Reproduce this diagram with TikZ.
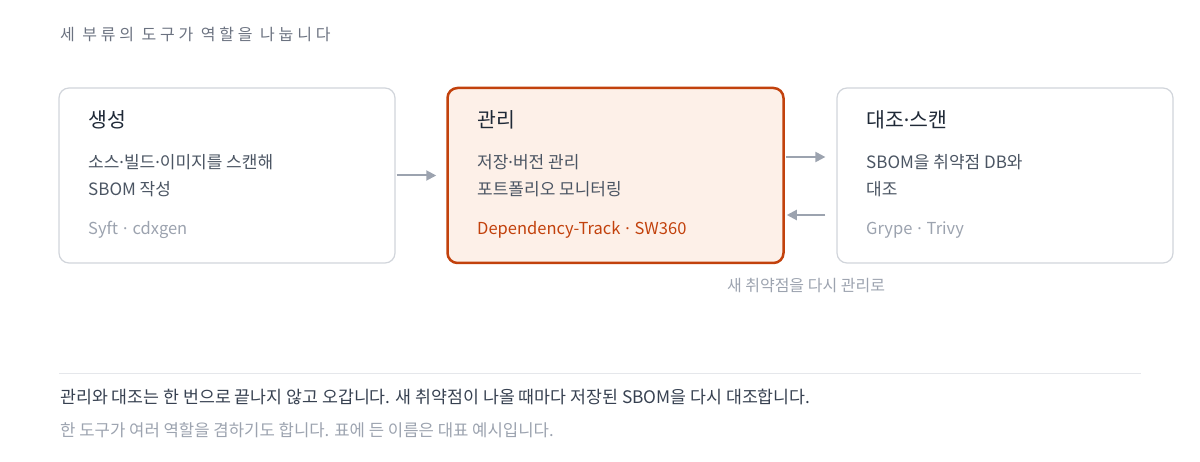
\documentclass[tikz,border=0pt]{standalone}
\usepackage{fontspec}
\setmainfont{Noto Sans CJK KR}
\newfontfamily\latinf{Noto Sans}
\newcommand\mdot{{\latinf ·}}
\newcommand\tsep{\hspace{0.3em}\mdot\hspace{0.3em}}
\usetikzlibrary{arrows.meta,calc}
\definecolor{bordergray}{HTML}{D1D5DB}
\definecolor{arrowgray}{HTML}{9CA3AF}
\definecolor{accent}{HTML}{C2410C}
\definecolor{accentfill}{HTML}{FDF0E8}
\definecolor{titlec}{HTML}{1F2937}
\definecolor{bodyc}{HTML}{4B5563}
\definecolor{mutedc}{HTML}{9CA3AF}
\definecolor{headc}{HTML}{6B7280}
\definecolor{footc}{HTML}{374151}
\definecolor{rulec}{HTML}{E5E7EB}
\tikzset{
  card/.style={draw=bordergray, line width=1.2pt, fill=white, rounded corners=10pt, minimum width=336pt, minimum height=175pt, inner sep=0pt},
  hicard/.style={card, draw=accent, fill=accentfill, line width=2.5pt},
  cardtitle/.style={anchor=west, inner sep=0pt, font=\fontsize{20.5}{24}\selectfont, text=titlec},
  cardbody/.style={anchor=west, inner sep=0pt, font=\fontsize{17}{20}\selectfont, text=bodyc},
  cardtools/.style={anchor=west, inner sep=0pt, font=\fontsize{16.5}{20}\selectfont, text=mutedc},
  flow/.style={draw=arrowgray, line width=2pt, -{Triangle[length=10pt,width=10pt]}},
}
\begin{document}
\begin{tikzpicture}[x=1pt,y=-1pt]
\useasboundingbox (0,0) rectangle (1200,462);
\node[anchor=west, inner sep=0pt, font=\fontsize{16}{18}\selectfont\addfontfeature{LetterSpace=24}, text=headc] (head) at (60,34) {세 부류의 도구가 역할을 나눕니다};

\node[card] (gen) at (227,175.5) {};
\node[hicard] (mgmt) at (615.5,175.5) {};
\node[card] (scan) at (1005,175.5) {};

\node[cardtitle] (gent) at (88,120) {생성};
\node[cardbody] (genb1) at (88,162) {소스\mdot 빌드\mdot 이미지를 스캔해};
\node[cardbody] (genb2) at (88,189) {SBOM 작성};
\node[cardtools] (gentl) at (88,230) {Syft\tsep cdxgen};

\node[cardtitle] (mgt) at (477,120) {관리};
\node[cardbody] (mgb1) at (477,162) {저장\mdot 버전 관리};
\node[cardbody] (mgb2) at (477,189) {포트폴리오 모니터링};
\node[cardtools, text=accent] (mgtl) at (477,230) {Dependency-Track\tsep SW360};

\node[cardtitle] (sct) at (866,120) {대조\mdot 스캔};
\node[cardbody] (scb1) at (866,162) {SBOM을 취약점 DB와};
\node[cardbody] (scb2) at (866,189) {대조};
\node[cardtools] (sctl) at (866,230) {Grype\tsep Trivy};

\draw[flow] ($(gen.east)+(1,0)$) -- ($(mgmt.west)+(-10,0)$);
\draw[flow] ($(mgmt.east)+(1,-18.5)$) -- ($(scan.west)+(-11,-18.5)$);
\draw[flow] ($(scan.west)+(-11,39.5)$) -- ($(mgmt.east)+(2,39.5)$);
\node[inner sep=0pt, font=\fontsize{16}{18}\selectfont, text=mutedc] (back) at (806,286) {새 취약점을 다시 관리로};

\coordinate (rl) at (59,374);
\coordinate (rr) at (1141,374);
\draw[rulec, line width=1pt] (rl) -- (rr);
\node[anchor=west, inner sep=0pt, font=\fontsize{17.3}{20}\selectfont, text=footc] (f1) at (60,397) {관리와 대조는 한 번으로 끝나지 않고 오갑니다. 새 취약점이 나올 때마다 저장된 SBOM을 다시 대조합니다.};
\node[anchor=west, inner sep=0pt, font=\fontsize{16.7}{20}\selectfont, text=mutedc] (f2) at (60,430) {한 도구가 여러 역할을 겸하기도 합니다. 표에 든 이름은 대표 예시입니다.};
\end{tikzpicture}
\end{document}
